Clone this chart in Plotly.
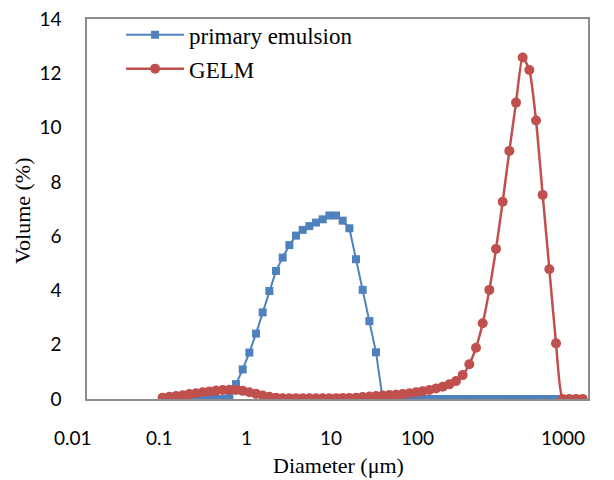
import plotly.graph_objects as go

# Particle size bins (um)
diameter = [0.0569, 0.0664, 0.0774, 0.0902, 0.1051, 0.1225, 0.1428, 0.1664, 0.1940, 0.2261,
            0.2635, 0.3071, 0.3580, 0.4172, 0.4863, 0.5668, 0.6607, 0.7700, 0.8975, 1.046,
            1.219, 1.421, 1.656, 1.931, 2.250, 2.623, 3.057, 3.563, 4.153, 4.840,
            5.642, 6.576, 7.665, 8.934, 10.41, 12.13, 14.15, 16.49, 19.22, 22.40,
            26.11, 30.43, 35.46, 41.33, 48.18, 56.15, 65.45, 76.29, 88.92, 103.6,
            120.8, 140.8, 164.1, 191.3, 222.9, 259.8, 302.9, 353.0, 411.4, 479.5,
            558.9, 651.4, 759.2, 885.0]

primary_emulsion = [0, 0, 0, 0, 0, 0, 0, 0, 0, 0,
                    0.10, 0.55, 1.09, 1.71, 2.41, 3.19, 3.98, 4.72, 5.21, 5.67,
                    6.02, 6.23, 6.37, 6.50, 6.62, 6.76, 6.76, 6.57, 6.29, 5.15,
                    4.02, 2.87, 1.72, 0, 0, 0, 0, 0, 0, 0,
                    0, 0, 0, 0, 0, 0, 0, 0, 0, 0,
                    0, 0, 0, 0, 0, 0, 0, 0, 0, 0,
                    0, 0, 0, 0]

gelm = [0.05, 0.08, 0.11, 0.14, 0.18, 0.21, 0.25, 0.28, 0.31, 0.33,
        0.34, 0.33, 0.30, 0.25, 0.19, 0.13, 0.08, 0.05, 0.03, 0.03,
        0.03, 0.03, 0.03, 0.03, 0.03, 0.03, 0.03, 0.04, 0.04, 0.05,
        0.07, 0.09, 0.11, 0.13, 0.15, 0.16, 0.18, 0.21, 0.25, 0.29,
        0.33, 0.39, 0.45, 0.54, 0.66, 0.88, 1.28, 1.89, 2.79, 4.02,
        5.53, 7.27, 9.14, 10.92, 12.58, 12.12, 10.26, 7.52, 4.78, 2.05,
        0, 0, 0, 0]

x_tick_labels = ["0.01", "0.1", "1", "10", "100", "1000"]
x_label_pos = [-0.028, 0.1457, 0.3174, 0.487, 0.6587, 0.95]

blue = "#4F81BD"
red = "#C0504D"
axis_gray = "#8C8C8C"
serif = "Liberation Serif, Times New Roman, serif"
sans = "Lato, Open Sans, sans-serif"

fig = go.Figure()
fig.add_trace(go.Scatter(
    x=diameter, y=primary_emulsion, mode="lines+markers", name="primary emulsion",
    legendgroup="a",
    line=dict(color=blue, width=2),
    marker=dict(symbol="square", size=8, color=blue),
))
fig.add_trace(go.Scatter(
    x=diameter, y=gelm, mode="lines+markers", name="GELM",
    legendgroup="b",
    line=dict(color=red, width=2.5, shape="spline", smoothing=0.6),
    marker=dict(symbol="circle", size=10, color=red),
))

for lab, pos in zip(x_tick_labels, x_label_pos):
    fig.add_annotation(text=lab, x=pos, y=-0.1, xref="paper", yref="paper",
                       showarrow=False, xanchor="center", yanchor="middle",
                       font=dict(family=sans, size=19, color="#000"))

fig.add_annotation(text="Diameter (μm)", x=0.501, y=-0.176, xref="paper", yref="paper",
                   showarrow=False, xanchor="center", yanchor="middle",
                   font=dict(family=serif, size=22, color="#000"))
fig.add_annotation(text="Volume (%)", x=-0.13, y=0.497, xref="paper", yref="paper",
                   showarrow=False, xanchor="center", yanchor="middle", textangle=-90,
                   font=dict(family=serif, size=22, color="#000"))

# page body adds an 8px offset, so margins are shifted to compensate
fig.update_layout(
    width=614, height=480,
    margin=dict(l=79, r=34, t=11, b=89, autoexpand=False),
    paper_bgcolor="white", plot_bgcolor="white",
    showlegend=True,
    legend=dict(x=0.068, y=1.015, xanchor="left", yanchor="top",
                bgcolor="rgba(0,0,0,0)", tracegroupgap=1, itemwidth=58,
                font=dict(family=serif, size=23, color="#000")),
    xaxis=dict(type="log", range=[-2, 3], showgrid=False, zeroline=False,
               showline=True, linecolor=axis_gray, linewidth=1.5, mirror=True,
               showticklabels=False, ticks="", automargin=False),
    yaxis=dict(range=[0, 14], dtick=2, showgrid=False, zeroline=False,
               showline=True, linecolor=axis_gray, linewidth=1.5, mirror=True,
               ticks="", ticklabelstandoff=20, automargin=False,
               ticklabeloverflow="allow",
               tickfont=dict(family=sans, size=19, color="#000")),
)

fig.write_html("out.html")
